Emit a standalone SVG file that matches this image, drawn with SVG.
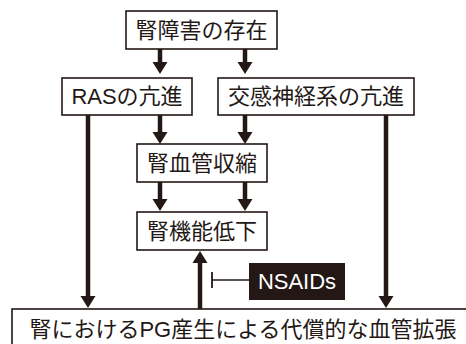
<svg xmlns="http://www.w3.org/2000/svg" width="466" height="344" viewBox="0 0 466 344">
<style>
.box{fill:#fff;stroke:#231815;stroke-width:1.6}
.t{font-family:"Liberation Sans","Noto Sans CJK JP",sans-serif;font-size:22px;fill:#231815;text-anchor:middle}
.shaft{stroke:#231815;stroke-width:4.5;fill:none}
.head{fill:#231815}
</style>
<rect width="466" height="344" fill="#fff"/>
<g id="connectors">
<line class="shaft" x1="160" y1="49" x2="160" y2="63"/><polygon class="head" points="152.5,62 167.5,62 160,74"/>
<line class="shaft" x1="245" y1="49" x2="245" y2="63"/><polygon class="head" points="237.5,62 252.5,62 245,74"/>
<line class="shaft" x1="160" y1="115" x2="160" y2="133"/><polygon class="head" points="152.5,132 167.5,132 160,144"/>
<line class="shaft" x1="245" y1="115" x2="245" y2="133"/><polygon class="head" points="237.5,132 252.5,132 245,144"/>
<line class="shaft" x1="160" y1="182" x2="160" y2="200"/><polygon class="head" points="152.5,199 167.5,199 160,211"/>
<line class="shaft" x1="245" y1="182" x2="245" y2="200"/><polygon class="head" points="237.5,199 252.5,199 245,211"/>
<line class="shaft" x1="88" y1="115" x2="88" y2="297"/><polygon class="head" points="80.5,296 95.5,296 88,308"/>
<line class="shaft" x1="386" y1="115" x2="386" y2="297"/><polygon class="head" points="378.5,296 393.5,296 386,308"/>
<line class="shaft" x1="200" y1="309" x2="200" y2="262"/><polygon class="head" points="192.5,263 207.5,263 200,251"/>
<line stroke="#231815" stroke-width="1.6" x1="212" y1="280" x2="250" y2="280"/>
<line stroke="#231815" stroke-width="1.8" x1="212" y1="272" x2="212" y2="288"/>
</g>
<g id="n1"><rect class="box" x="126" y="11" width="151" height="38"/><text class="t" x="201.5" y="38">腎障害の存在</text></g>
<g id="n2"><rect class="box" x="62" y="78" width="130" height="37"/><text class="t" x="127" y="104">RASの亢進</text></g>
<g id="n3"><rect class="box" x="218" y="78" width="196" height="37"/><text class="t" x="316" y="104">交感神経系の亢進</text></g>
<g id="n4"><rect class="box" x="137" y="144" width="130" height="38"/><text class="t" x="202" y="171">腎血管収縮</text></g>
<g id="n5"><rect class="box" x="137" y="212" width="130" height="38"/><text class="t" x="202" y="239">腎機能低下</text></g>
<g id="n6"><rect x="249" y="263" width="96" height="37" fill="#231815"/><text class="t" x="297" y="289" style="fill:#fff">NSAIDs</text></g>
<g id="n7"><rect class="box" x="12" y="309" width="470" height="50"/><text class="t" x="243" y="337">腎におけるPG産生による代償的な血管拡張</text></g>
</svg>
